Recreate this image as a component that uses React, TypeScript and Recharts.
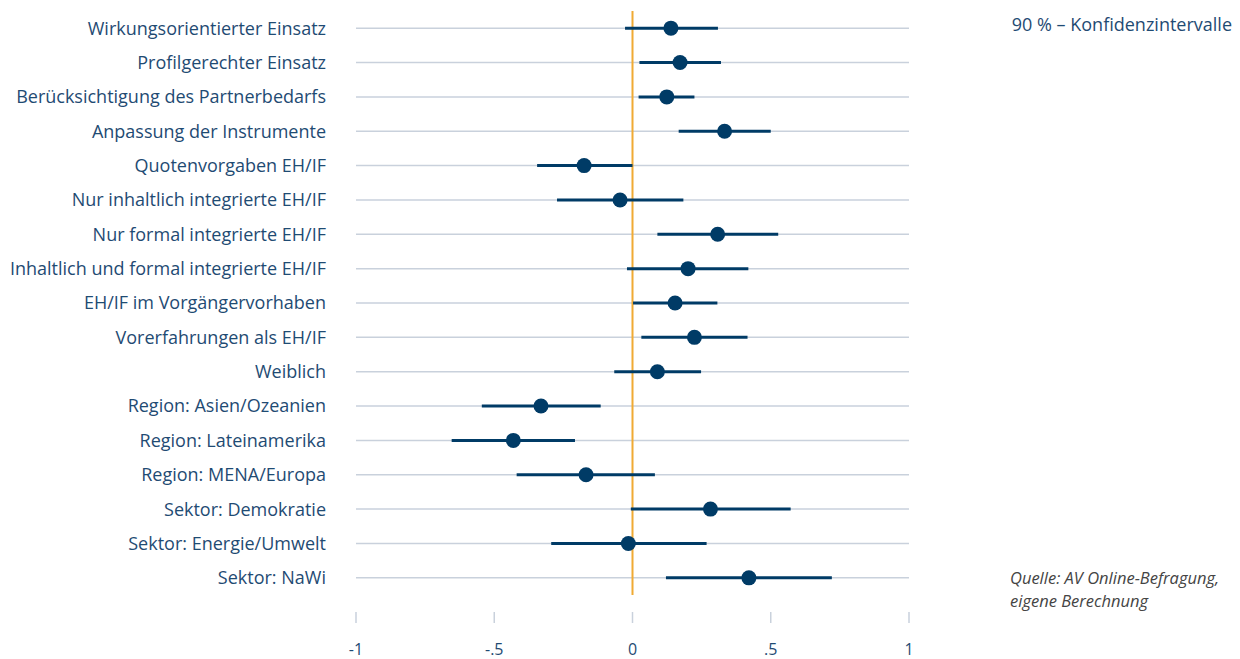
import React from 'react';
import {
  ScatterChart,
  Scatter,
  XAxis,
  YAxis,
  CartesianGrid,
  ReferenceLine,
  ErrorBar,
} from 'recharts';

const categories = [
  'Wirkungsorientierter Einsatz',
  'Profilgerechter Einsatz',
  'Berücksichtigung des Partnerbedarfs',
  'Anpassung der Instrumente',
  'Quotenvorgaben EH/IF',
  'Nur inhaltlich integrierte EH/IF',
  'Nur formal integrierte EH/IF',
  'Inhaltlich und formal integrierte EH/IF',
  'EH/IF im Vorgängervorhaben',
  'Vorerfahrungen als EH/IF',
  'Weiblich',
  'Region: Asien/Ozeanien',
  'Region: Lateinamerika',
  'Region: MENA/Europa',
  'Sektor: Demokratie',
  'Sektor: Energie/Umwelt',
  'Sektor: NaWi',
];

const estimates = [0.139, 0.172, 0.124, 0.333, -0.175, -0.045, 0.308, 0.201, 0.154, 0.224, 0.09, -0.331, -0.431, -0.168, 0.282, -0.015, 0.421];
const lowerCI = [-0.027, 0.025, 0.022, 0.167, -0.345, -0.273, 0.09, -0.02, 0.002, 0.032, -0.066, -0.545, -0.654, -0.419, -0.006, -0.294, 0.121];
const upperCI = [0.309, 0.32, 0.224, 0.5, 0.0, 0.184, 0.527, 0.419, 0.307, 0.416, 0.248, -0.115, -0.208, 0.081, 0.572, 0.268, 0.721];

const xTicks = [-1, -0.5, 0, 0.5, 1];
const xTickLabels = ['-1', '-.5', '0', '.5', '1'];

const data = categories.map((name, i) => ({
  name,
  est: estimates[i],
  err: [estimates[i] - lowerCI[i], upperCI[i] - estimates[i]],
}));

const TEXT = '#1f4b73';
const DOT = '#003b66';
const GRID = '#c9d1dc';
const ORANGE = '#f0aa33';
const FONT = '"Open Sans", sans-serif';

const XTick = (props: any) => {
  const { x, y, payload } = props;
  const idx = xTicks.indexOf(payload.value);
  return (
    <g>
      <line x1={x} x2={x} y1={y + 17} y2={y + 28} stroke={GRID} strokeWidth={1.5} />
      <text x={x} y={y + 60} textAnchor="middle" fill={TEXT} fontSize={16} fontFamily={FONT}>
        {idx >= 0 ? xTickLabels[idx] : payload.value}
      </text>
    </g>
  );
};

export default function App() {
  return (
    <div style={{ position: 'absolute', left: 0, top: 0, width: 1240, height: 659, background: '#fff', fontFamily: FONT }}>
      <ScatterChart
        width={1240}
        height={659}
        margin={{ top: 11, right: 331, bottom: 0, left: 0 }}
      >
        <CartesianGrid
          horizontal={true}
          vertical={false}
          stroke={GRID}
          strokeWidth={1.5}
          syncWithTicks={true}
        />
        <XAxis
          type="number"
          dataKey="est"
          domain={[-1, 1]}
          ticks={xTicks}
          axisLine={false}
          tickLine={false}
          tickSize={0}
          tickMargin={0}
          height={64}
          tick={<XTick />}
          interval={0}
        />
        <YAxis
          type="category"
          dataKey="name"
          width={356}
          axisLine={false}
          tickLine={false}
          tickSize={0}
          tickMargin={30}
          reversed={true}
          interval={0}
          allowDuplicatedCategory={false}
          tick={{ fill: TEXT, fontSize: 18, fontFamily: FONT }}
        />
        <ReferenceLine x={0} stroke={ORANGE} strokeWidth={2} ifOverflow="extendDomain" />
        <Scatter data={data} fill={DOT} isAnimationActive={false} shape={(p: any) => <circle cx={p.cx} cy={p.cy} r={7.5} fill={DOT} />}>
          <ErrorBar dataKey="err" direction="x" width={0} stroke={DOT} strokeWidth={3} isAnimationActive={false} />
        </Scatter>
      </ScatterChart>
      <div style={{ position: 'absolute', right: 8, top: 12, fontSize: 18, color: TEXT, whiteSpace: 'nowrap' }}>
        90 % – Konfidenzintervalle
      </div>
      <div style={{ position: 'absolute', left: 1010, top: 566, fontSize: 16.5, lineHeight: '23px', color: '#444', fontStyle: 'italic', whiteSpace: 'nowrap' }}>
        Quelle: AV Online-Befragung,
        <br />
        eigene Berechnung
      </div>
    </div>
  );
}
